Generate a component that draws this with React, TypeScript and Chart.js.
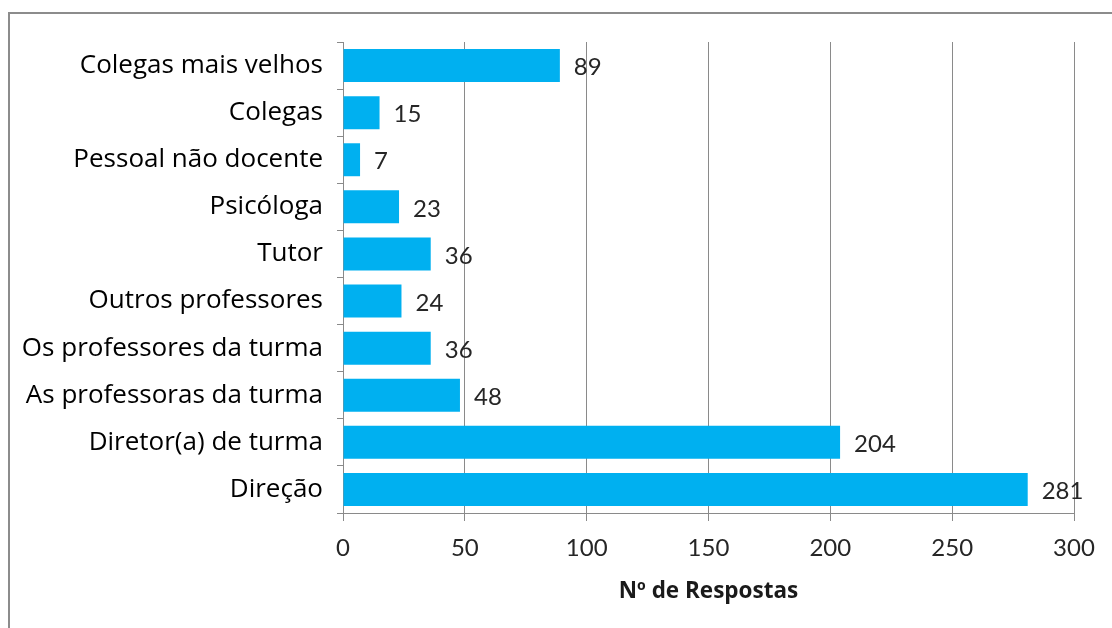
import React, { useEffect, useRef } from "react";
import { Chart, registerables } from "chart.js";

Chart.register(...registerables);

const categories = [
  "Colegas mais velhos",
  "Colegas",
  "Pessoal não docente",
  "Psicóloga",
  "Tutor",
  "Outros professores",
  "Os professores da turma",
  "As professoras da turma",
  "Diretor(a) de turma",
  "Direção",
];
const responses = [89, 15, 7, 23, 36, 24, 36, 48, 204, 281];
const xTitle = "Nº de Respostas";
const xMin = 0;
const xMax = 300;
const xStep = 50;

const BAR_COLOR = "#00B0F0";
const AXIS_COLOR = "#8a8a8a";
const NUM_FONT = "Lato";
const LABEL_FONT = "'Open Sans'";

const framePlugin = {
  id: "frame",
  beforeDraw(chart: any) {
    const ctx = chart.ctx;
    ctx.save();
    ctx.fillStyle = "#ffffff";
    ctx.fillRect(0, 0, chart.width, chart.height);
    ctx.strokeStyle = "#8c8c8c";
    ctx.lineWidth = 2;
    ctx.beginPath();
    ctx.moveTo(9, chart.height);
    ctx.lineTo(9, 13);
    ctx.lineTo(chart.width, 13);
    ctx.stroke();
    ctx.restore();
  },
};

const valueLabelPlugin = {
  id: "valueLabels",
  afterDatasetsDraw(chart: any) {
    const ctx = chart.ctx;
    const meta = chart.getDatasetMeta(0);
    const data = chart.data.datasets[0].data as number[];
    ctx.save();
    ctx.fillStyle = "#262626";
    ctx.font = `24px ${NUM_FONT}`;
    ctx.textAlign = "left";
    ctx.textBaseline = "middle";
    meta.data.forEach((bar: any, i: number) => {
      ctx.fillText(String(data[i]), bar.x + 14, bar.y + 2);
    });
    ctx.restore();
  },
};

export default function App() {
  const ref = useRef<HTMLCanvasElement | null>(null);
  useEffect(() => {
    if (!ref.current) return;
    const chart = new Chart(ref.current, {
      type: "bar",
      data: {
        labels: categories,
        datasets: [
          {
            data: responses,
            backgroundColor: BAR_COLOR,
            borderWidth: 0,
            categoryPercentage: 1,
            barPercentage: 0.7,
          },
        ],
      },
      options: {
        indexAxis: "y",
        animation: false,
        responsive: false,
        maintainAspectRatio: false,
        layout: { padding: { top: 42, right: 38, bottom: 0, left: 0 } },
        plugins: {
          legend: { display: false },
          tooltip: { enabled: false },
        },
        scales: {
          x: {
            min: xMin,
            max: xMax,
            ticks: {
              stepSize: xStep,
              color: "#262626",
              font: { family: NUM_FONT, size: 24 },
              padding: 13,
            },
            grid: {
              color: AXIS_COLOR,
              lineWidth: 1,
              tickLength: 8,
              drawOnChartArea: true,
            },
            border: { display: true, color: AXIS_COLOR, width: 1 },
            title: {
              display: true,
              text: xTitle,
              color: "#1a1a1a",
              font: { family: LABEL_FONT, size: 22.5, weight: "bold" },
              padding: { top: 0, bottom: 23 },
            },
            afterFit(scale: any) {
              scale.height = 115;
            },
          },
          y: {
            ticks: {
              color: "#000000",
              font: { family: LABEL_FONT, size: 26 },
              padding: 14,
            },
            grid: {
              offset: true,
              color: AXIS_COLOR,
              drawOnChartArea: false,
              drawTicks: true,
              tickLength: 6,
            },
            border: { display: true, color: AXIS_COLOR, width: 1 },
            afterFit(scale: any) {
              scale.width = 343;
            },
          },
        },
      },
      plugins: [framePlugin, valueLabelPlugin],
    } as any);
    return () => chart.destroy();
  }, []);
  return (
    <div style={{ position: "absolute", left: 0, top: 0, width: 1112, height: 628 }}>
      <canvas ref={ref} width={1112} height={628} />
    </div>
  );
}
